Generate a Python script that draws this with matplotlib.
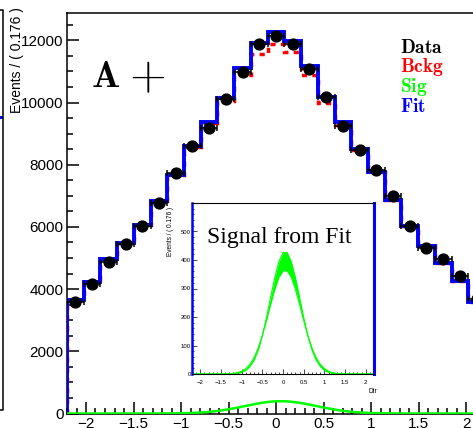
"""
Dtr fit plot (A+) with signal inset
"""

import numpy as np
import matplotlib.pyplot as plt
from matplotlib.ticker import MultipleLocator
from matplotlib.lines import Line2D
from matplotlib.patches import Rectangle

plt.rcParams['mathtext.fontset'] = 'cm'
plt.rcParams['font.family'] = ['Liberation Sans', 'DejaVu Sans']

# binning: 25 bins of 0.176 on [-2.2, 2.2]
x_lo, x_hi, n_bins = -2.2, 2.2, 25

data = [3590, 4170, 4860, 5450, 6030, 6770, 7730, 8590, 9180, 10100, 10990, 11880, 12130,
        11880, 11080, 10170, 9230, 8490, 7820, 7000, 6030, 5310, 4970, 4420, 3690]
fit = [3650, 4240, 4970, 5480, 6060, 6830, 7660, 8590, 9390, 10160, 11120, 11900, 12260,
       11990, 11170, 10170, 9370, 8520, 7780, 6860, 6030, 5380, 4840, 4260, 3590]
bckg = [3650, 4238, 4968, 5477, 6055, 6825, 7655, 8572, 9338, 10040, 10900, 11570, 11867,
        11617, 10885, 9995, 9284, 8486, 7769, 6858, 6029, 5380, 4840, 4260, 3590]

# signal from fit, band (upper / lower), read every 0.1
sig_x = [-2.2, -2.1, -2.0, -1.9, -1.8, -1.7, -1.6, -1.5, -1.4, -1.3, -1.2, -1.1, -1.0,
         -0.9, -0.8, -0.7, -0.6, -0.5, -0.4, -0.3, -0.2, -0.1, 0.0, 0.1, 0.2, 0.3, 0.4,
         0.5, 0.6, 0.7, 0.8, 0.9, 1.0, 1.1, 1.2, 1.3, 1.4, 1.5, 1.6, 1.7, 1.8, 1.9, 2.0,
         2.1, 2.2]
sig_hi = [0, 0, 0, 0, 0, 0, 0, 0.04, 0.13, 0.4, 1.0, 2.6, 6.1, 13, 27, 49, 84, 134, 197,
          268, 338, 394, 426, 426, 394, 338, 268, 197, 134, 84, 49, 27, 13, 6.1, 2.6, 1.0,
          0.4, 0.13, 0.04, 0, 0, 0, 0, 0, 0]
sig_lo = [0, 0, 0, 0, 0, 0, 0, 0.14, 0.36, 0.9, 2.1, 4.7, 9.8, 19, 34, 57, 91, 135, 188,
          244, 297, 339, 362, 362, 339, 297, 244, 188, 135, 91, 57, 34, 19, 9.8, 4.7, 2.1,
          0.9, 0.36, 0.14, 0, 0, 0, 0, 0, 0]

xtick_vals = [-2, -1.5, -1, -0.5, 0, 0.5, 1, 1.5, 2]
xtick_labels = ['\u22122', '\u22121.5', '\u22121', '\u22120.5', '0', '0.5', '1', '1.5', '2']
ytick_main = [0, 2000, 4000, 6000, 8000, 10000, 12000]
ytick_inset = [0, 100, 200, 300, 400, 500]

legend_names = ['Data', 'Bckg', 'Sig', 'Fit']
legend_colors = ['black', '#ff0000', '#00ff00', '#0000ff']

W, H = 473, 428


def fx(px):
    return px / W


def fy(py):
    return 1 - py / H


edges = np.linspace(x_lo, x_hi, n_bins + 1)
centers = 0.5 * (edges[1:] + edges[:-1])
half_w = 0.5 * (edges[1] - edges[0])
sig_mid = 0.5 * (np.array(sig_hi) + np.array(sig_lo))

fig = plt.figure(figsize=(W / 100, H / 100), dpi=100)

# main pad
ax = fig.add_axes([fx(67), fy(413.5), fx(418), (413.5 - 13) / H])
ax.stairs(bckg, edges, baseline=0, color='#ff0000', lw=2.5, ls=(0, (1.5, 1.5)), zorder=2)
ax.stairs(fit, edges, baseline=0, color='#0000ff', lw=2.8, zorder=3)
ax.plot(sig_x, sig_mid, color='#00ff00', lw=1.8, zorder=4)
ax.errorbar(centers, data, xerr=half_w, fmt='o', color='black', ms=7.8,
            elinewidth=1.1, capsize=2.5, capthick=1.1, zorder=5)

ax.set_xlim(x_lo, x_hi)
ax.set_ylim(0, 12880)
ax.set_xticks(xtick_vals)
ax.set_xticklabels(xtick_labels)
ax.set_yticks(ytick_main)
ax.xaxis.set_minor_locator(MultipleLocator(0.1))
ax.yaxis.set_minor_locator(MultipleLocator(500))
ax.tick_params(which='both', direction='in', top=False, right=False, width=1.1,
               labelsize=11)
ax.tick_params(which='major', length=8.5)
ax.tick_params(which='minor', length=4.5)
ax.tick_params(axis='y', pad=2.5)
ax.tick_params(axis='x', pad=2.5)
for s in ax.spines.values():
    s.set_linewidth(1.1)

fig.text(fx(17), fy(113), 'Events / ( 0.176 )', rotation=90, rotation_mode='anchor',
         ha='left', va='center', fontsize=10)

# label and legend
fig.text(fx(91), fy(87), r'$\mathbf{A}$', fontsize=27, ha='left', va='baseline')
fig.text(fx(147), fy(77.5), r'$+$', fontsize=34, ha='center', va='center')
for name, col, yb in zip(legend_names, legend_colors, [53, 72.5, 92, 111.5]):
    fig.text(fx(400), fy(yb), r'$\mathbf{%s}$' % name, color=col, fontsize=14,
             ha='left', va='baseline')

# inset: signal band
ax_in = fig.add_axes([fx(192), fy(374), fx(182), 171 / H])
ax_in.fill_between(sig_x, sig_lo, sig_hi, color='#00ff00', lw=0)
ax_in.plot(sig_x, sig_hi, color='#00ff00', lw=0.8)
ax_in.plot(sig_x, sig_lo, color='#00ff00', lw=0.8)
ax_in.set_xlim(x_lo, x_hi)
ax_in.set_ylim(0, 600)
ax_in.set_xticks(xtick_vals)
ax_in.set_xticklabels(xtick_labels)
ax_in.set_yticks(ytick_inset)
ax_in.xaxis.set_minor_locator(MultipleLocator(0.1))
ax_in.yaxis.set_minor_locator(MultipleLocator(20))
ax_in.tick_params(which='both', direction='in', width=0.5, labelsize=4.3)
ax_in.tick_params(which='major', length=3.4)
ax_in.tick_params(which='minor', length=1.6)
ax_in.tick_params(axis='x', pad=4.3)
ax_in.tick_params(axis='y', pad=0.8)
ax_in.spines['left'].set_color('#0000ff')
ax_in.spines['left'].set_linewidth(1.8)
ax_in.spines['right'].set_color('#0000ff')
ax_in.spines['right'].set_linewidth(2.2)
ax_in.spines['top'].set_linewidth(0.8)
ax_in.spines['bottom'].set_linewidth(0.8)

fig.text(fx(207), fy(243), 'Signal from Fit', family='Liberation Serif', fontsize=17,
         ha='left', va='baseline')
fig.text(fx(170), fy(207), 'Events / ( 0.176 )', rotation=90, rotation_mode='anchor',
         ha='right', va='center', fontsize=4.7)
fig.text(fx(377), fy(391.5), 'Dtr', ha='right', va='center', fontsize=4.7)

# edge of the neighbouring pad on the left
fig.add_artist(Line2D([fx(0), fx(2.5), fx(2.5), fx(0)], [fy(10), fy(10), fy(410), fy(410)],
                      color='black', lw=1.1))
fig.add_artist(Rectangle((fx(0), fy(119)), fx(3), 3 / H, color='#0000ff', lw=0))

fig.savefig('out.png', dpi=100)
